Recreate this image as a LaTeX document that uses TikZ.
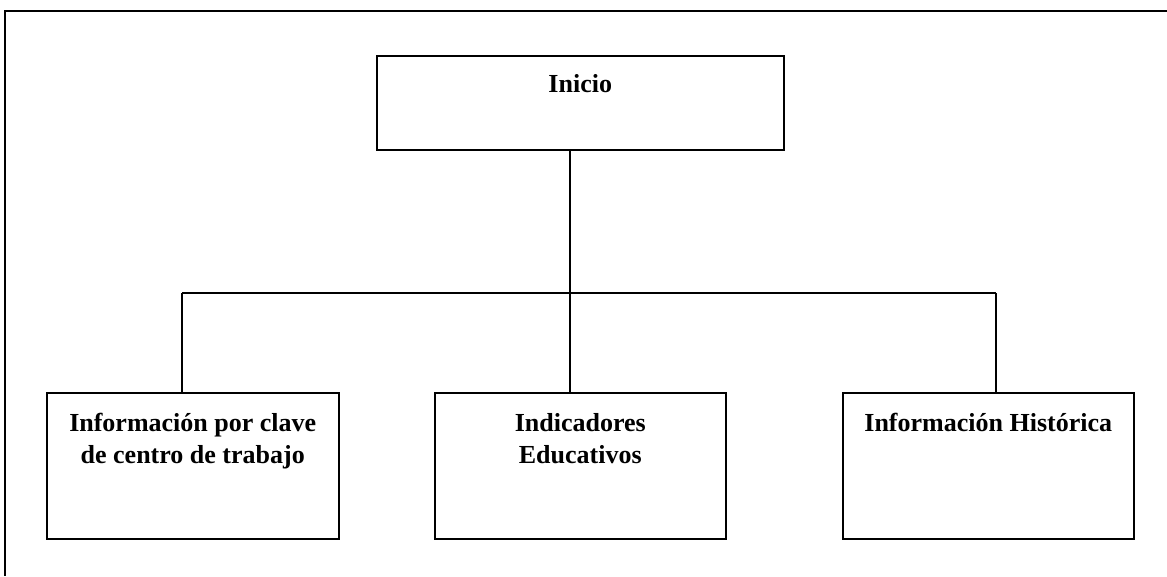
\documentclass[tikz,border=0pt]{standalone}
\usepackage{fontspec}
\setmainfont{Liberation Serif}
\begin{document}
\begin{tikzpicture}[x=1pt,y=-1pt,
  box/.style={draw, line width=1.5pt, inner sep=0pt, anchor=north west, font=\bfseries\fontsize{26}{32}\selectfont},
  conn/.style={line width=1.5pt},
  frame/.style={line width=2pt}]
\useasboundingbox (0,0) rectangle (1167,576);
\draw[frame] (1167,11) -- (5,11) -- (5,576);
\node[box] (I) at (376,55) {\parbox[c][94pt][t]{407pt}{\centering\rule{0pt}{37pt}Inicio}};
\node[box] (L) at (46,392) {\parbox[c][146pt][t]{292pt}{\centering\rule{0pt}{39pt}Información por clave\\de centro de trabajo}};
\node[box] (M) at (434,392) {\parbox[c][146pt][t]{291pt}{\centering\rule{0pt}{39pt}Indicadores\\Educativos}};
\node[box] (R) at (842,392) {\parbox[c][146pt][t]{291pt}{\centering\rule{0pt}{39pt}Información Histórica}};
\coordinate (ja) at (182,293);
\coordinate (jc) at (570,293);
\coordinate (jb) at (996,293);
\draw[conn] (I.south -| jc) -- (jc);
\draw[conn] (ja) -- (jb);
\draw[conn] (ja) -- (ja |- L.north);
\draw[conn] (jc) -- (jc |- M.north);
\draw[conn] (jb) -- (jb |- R.north);
\end{tikzpicture}
\end{document}
